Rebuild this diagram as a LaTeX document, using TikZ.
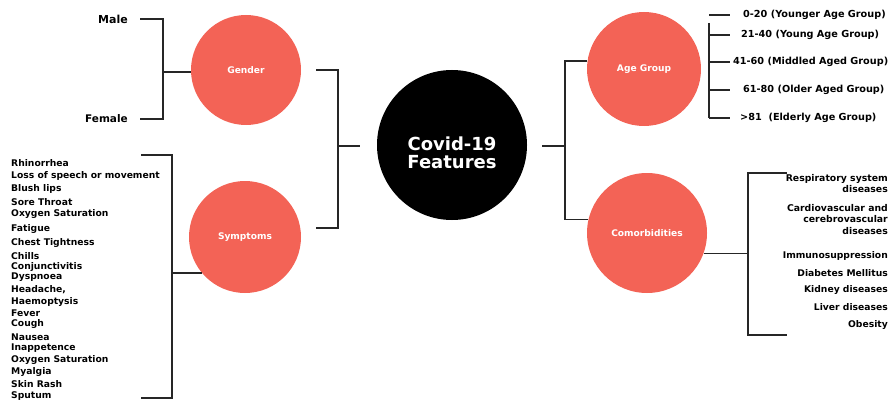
\documentclass[tikz,border=0pt]{standalone}
\usepackage{fontspec}
\setmainfont{DejaVu Sans}
\definecolor{salmon}{RGB}{243,99,86}
\tikzset{
	topic/.style={circle,fill=salmon,text=white,inner sep=0pt,font=\bfseries\fontsize{9.1}{10}\selectfont},
	item/.style={inner sep=0pt,font=\bfseries\fontsize{9.2}{11}\selectfont},
	link/.style={line width=1.7pt,black!85}
}

\begin{document}
\begin{tikzpicture}[x=1pt,y=-1pt]
	\useasboundingbox (0,0) rectangle (893,401);
	\node[circle,fill=black,minimum size=150pt] (covid) at (452,145) {};
	\node[text=white,align=center,font=\bfseries\fontsize{18}{18}\selectfont] (covidtxt) at (452,153) {Covid-19\\Features};
	\node[topic,minimum size=110pt] (gender) at (246,70) {Gender};
	\node[topic,minimum size=112pt] (symptoms) at (245,237) {Symptoms};
	\node[topic,minimum size=114pt] (age) at (644,69) {Age Group};
	\node[topic,minimum size=120pt] (comorb) at (647,233) {Comorbidities};
	\node[item,anchor=east,font=\bfseries\fontsize{11}{12}\selectfont] (male) at (128,19) {Male};
	\node[item,anchor=east,font=\bfseries\fontsize{10.5}{12}\selectfont] (female) at (128,119) {Female};
	\node[item,anchor=west,font=\bfseries\fontsize{9.7}{11}\selectfont] (a1) at (743,15) {0-20 (Younger Age Group)};
	\node[item,anchor=west,font=\bfseries\fontsize{9.7}{11}\selectfont] (a2) at (741,35) {21-40 (Young Age Group)};
	\node[item,anchor=west,font=\bfseries\fontsize{9.7}{11}\selectfont] (a3) at (733,62) {41-60 (Middled Aged Group)};
	\node[item,anchor=west,font=\bfseries\fontsize{9.7}{11}\selectfont] (a4) at (743,90) {61-80 (Older Aged Group)};
	\node[item,anchor=west,font=\bfseries\fontsize{9.7}{11}\selectfont] (a5) at (740,118) {>81~ (Elderly Age Group)};
	\node[item,anchor=north east,align=right,font=\bfseries\fontsize{9.3}{11.5}\selectfont] (c1) at (888,174) {Respiratory system\\diseases};
	\node[item,anchor=north east,align=right,font=\bfseries\fontsize{9.3}{11.5}\selectfont] (c2) at (888,204) {Cardiovascular and\\cerebrovascular\\diseases};
	\node[item,anchor=east] (c3) at (888,256) {Immunosuppression};
	\node[item,anchor=east] (c4) at (888,273) {Diabetes Mellitus};
	\node[item,anchor=east] (c5) at (888,290) {Kidney diseases};
	\node[item,anchor=east] (c6) at (888,307) {Liver diseases};
	\node[item,anchor=east] (c7) at (888,325) {Obesity};
	\foreach \name/\y/\txt in {s1/163/Rhinorrhea,s2/176/Loss of speech or movement,s3/189/Blush lips,s4/202/Sore Throat,s5/214/Oxygen Saturation,s6/229/Fatigue,s7/243/Chest Tightness,s8/256/Chills,s9/267/Conjunctivitis,s10/277/Dyspnoea,s11/290/{Headache,},s12/302/Haemoptysis,s13/313/Fever,s14/324/Cough,s15/337/Nausea,s16/348/Inappetence,s17/360/Oxygen Saturation,s18/372/Myalgia,s19/384/Skin Rash,s20/396/Sputum}
		\node[item,anchor=west] (\name) at (11,\y) {\txt};
	\coordinate (ljoin) at (338,146);
	\coordinate (rjoin) at (565,146);
	\coordinate (gspine) at (163,0);
	\coordinate (gtick) at (140,0);
	\coordinate (aspine) at (709,0);
	\coordinate (atick) at (730,0);
	\coordinate (stop) at (141,155);
	\coordinate (sbot) at (141,398);
	\coordinate (ctop) at (787,173);
	\coordinate (cbot) at (787,335);
	\draw[link] ([xshift=15pt]gender.east) -| (ljoin) |- ([xshift=15pt,yshift=9pt]symptoms.east);
	\draw[link] (ljoin) -- ++(22,0);
	\draw[link] (rjoin) -- ++(-23,0);
	\draw[link] (age.172) -| (rjoin) |- (comorb.167);
	\draw[link] (gtick |- male.east) -| (gspine |- female.east) -- (gtick |- female.east);
	\draw[link] (gender.182) -- (gspine |- gender.182);
	\draw[link] (stop) -- ++(31,0) |- (sbot);
	\draw[link] (symptoms.220) -- ++(-31,0);
	\draw[link] (aspine |- a1.west) -- (atick |- a1.west);
	\draw[link] ([yshift=-8pt]aspine |- a1.west) -- (aspine |- a5.west);
	\foreach \n in {a2,a3,a4,a5}
		\draw[link] (aspine |- \n.west) -- (atick |- \n.west);
	\draw[link] (ctop) -- ++(-39,0) |- (cbot);
	\draw[link] (comorb.-20) -- ++(45,0);
\end{tikzpicture}
\end{document}
